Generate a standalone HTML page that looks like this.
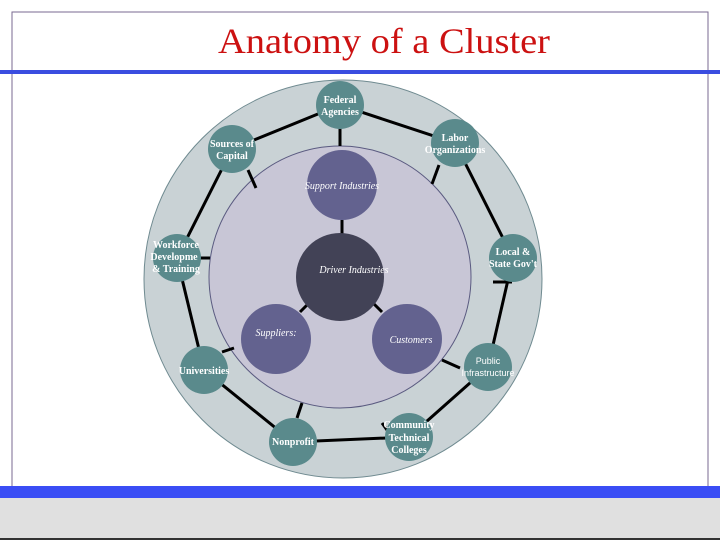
<!DOCTYPE html>
<html><head><meta charset="utf-8"><style>
body{margin:0;width:720px;height:540px;background:#fff;overflow:hidden;font-family:"Liberation Serif",serif}
</style></head><body>
<svg width="720" height="540" xmlns="http://www.w3.org/2000/svg" style="position:absolute;left:0;top:0">
<rect x="12" y="12" width="696" height="490" fill="none" stroke="#7a6a90" stroke-width="1"/>
<text x="218" y="53" textLength="332" lengthAdjust="spacingAndGlyphs" font-family="Liberation Serif" font-size="36" fill="#cc1111">Anatomy of a Cluster</text>
<rect x="0" y="70" width="720" height="4" fill="#3a4de0"/>
<circle cx="343" cy="279" r="199" fill="#c9d2d5" stroke="#6f8a90" stroke-width="1"/>
<circle cx="340" cy="277" r="131" fill="#c8c6d6" stroke="#5a5a80" stroke-width="1"/>
<g stroke="#000" stroke-width="3" fill="none">
<polyline points="340,105 455,143 513,258 488,367 409,437 293,442 204,370 177,258 232,149 340,105"/>
<line x1="340" y1="127" x2="340" y2="146"/>
<line x1="248" y1="170" x2="256" y2="188"/>
<line x1="439" y1="165" x2="432" y2="184"/>
<line x1="200" y1="258" x2="210" y2="258"/>
<line x1="493" y1="282" x2="512" y2="282"/>
<line x1="222" y1="352" x2="234" y2="348"/>
<line x1="442" y1="360" x2="460" y2="368"/>
<line x1="297" y1="418" x2="302" y2="403"/>
<line x1="382" y1="423" x2="392" y2="437"/>
<line x1="342" y1="220" x2="342" y2="236"/>
<line x1="300" y1="312" x2="308" y2="304"/>
<line x1="373" y1="303" x2="382" y2="312"/>
</g>
<circle cx="342" cy="185" r="35" fill="#63628f"/>
<circle cx="340" cy="277" r="44" fill="#424256"/>
<circle cx="276" cy="339" r="35" fill="#63628f"/>
<circle cx="407" cy="339" r="35" fill="#63628f"/>
<g fill="#5a8a8c">
<circle cx="340" cy="105" r="24"/><circle cx="232" cy="149" r="24"/><circle cx="455" cy="143" r="24"/>
<circle cx="177" cy="258" r="24"/><circle cx="513" cy="258" r="24"/><circle cx="204" cy="370" r="24"/>
<circle cx="488" cy="367" r="24"/><circle cx="293" cy="442" r="24"/><circle cx="409" cy="437" r="24"/>
</g>
<g fill="#fff" font-family="Liberation Serif" font-size="10" font-weight="bold" text-anchor="middle">
<text x="340" y="103">Federal</text><text x="340" y="115">Agencies</text>
<text x="232" y="147">Sources of</text><text x="232" y="159">Capital</text>
<text x="455" y="141">Labor</text><text x="455" y="153">Organizations</text>
<text x="176" y="248">Workforce</text><text x="174" y="260">Developme</text><text x="176" y="272">&amp; Training</text>
<text x="513" y="255">Local &amp;</text><text x="513" y="267">State Gov't</text>
<text x="204" y="374">Universities</text>
<text x="293" y="445">Nonprofit</text>
<text x="409" y="428">Community</text><text x="409" y="441">Technical</text><text x="409" y="453">Colleges</text>
</g>
<g fill="#fff" font-family="Liberation Sans" font-size="9" text-anchor="middle">
<text x="488" y="364">Public</text><text x="488" y="376">Infrastructure</text>
</g>
<g fill="#fff" font-family="Liberation Serif" font-size="10" font-style="italic" text-anchor="middle">
<text x="342" y="189">Support Industries</text>
<text x="354" y="273">Driver Industries</text>
<text x="276" y="336">Suppliers:</text>
<text x="411" y="343">Customers</text>
</g>
<rect x="0" y="486" width="720" height="12" fill="#3a4df5"/>
<rect x="0" y="498" width="720" height="41" fill="#e0e0e0"/>
<rect x="0" y="538" width="720" height="2" fill="#333"/>
</svg>
</body></html>
